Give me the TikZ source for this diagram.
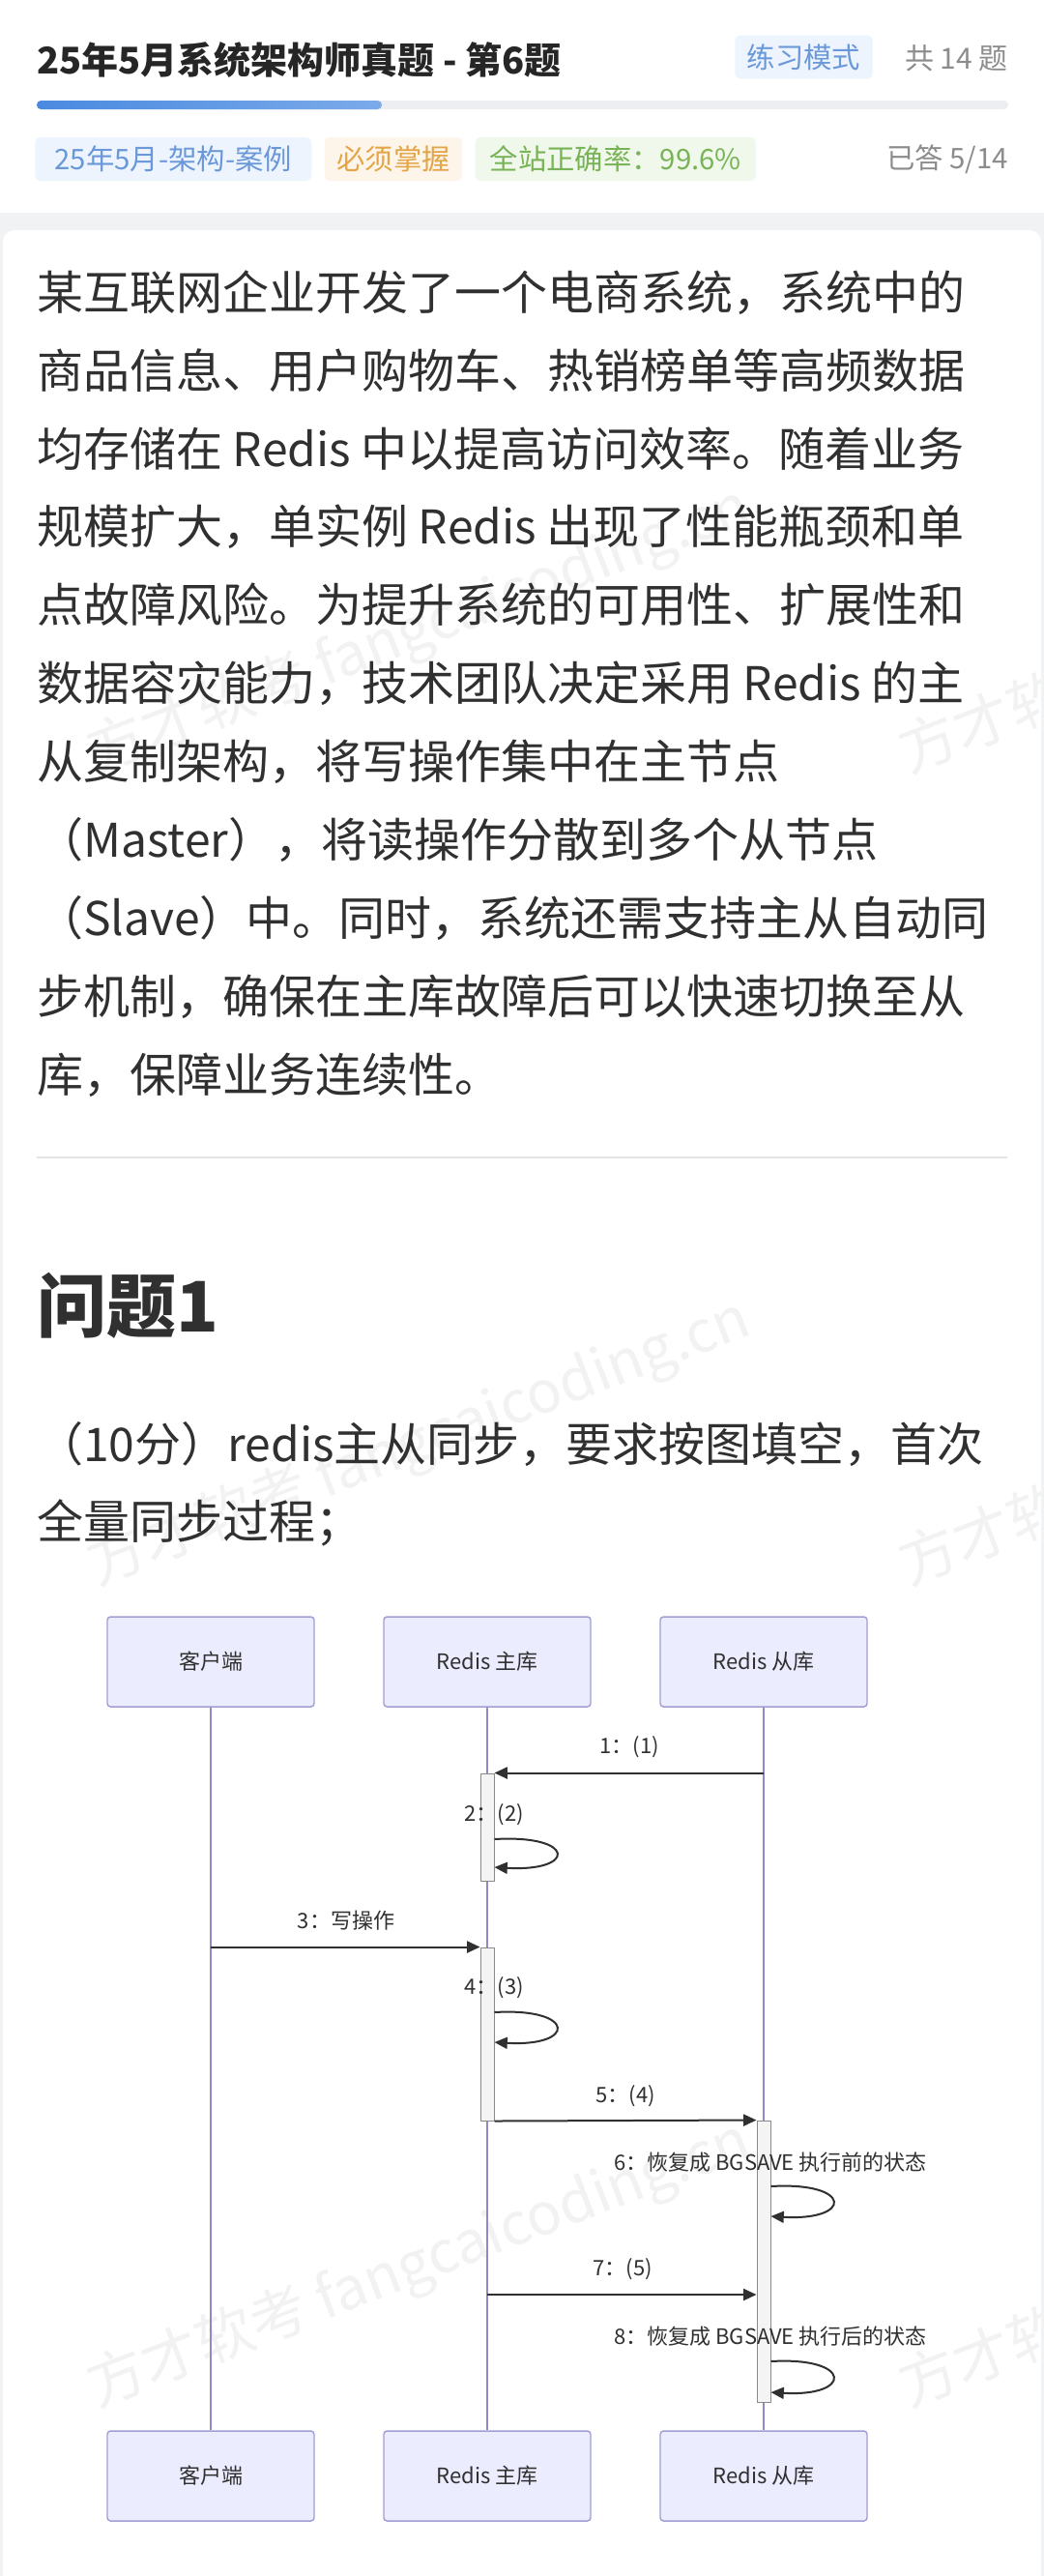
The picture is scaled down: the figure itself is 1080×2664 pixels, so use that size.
\documentclass[tikz,border=0pt]{standalone}
\usepackage{fontspec}
\setmainfont{Noto Sans CJK SC}
\usetikzlibrary{arrows.meta,positioning}

\definecolor{ink}{HTML}{303030}
\definecolor{titleink}{HTML}{262626}
\definecolor{greyink}{HTML}{8C8C8C}
\definecolor{pagegrey}{HTML}{F1F2F4}
\definecolor{trackgrey}{HTML}{ECEEF1}
\definecolor{barleft}{HTML}{4A8AE0}
\definecolor{barright}{HTML}{7BAAEA}
\definecolor{tagbluebg}{HTML}{EDF4FE}
\definecolor{tagblue}{HTML}{6A98D8}
\definecolor{tagorangebg}{HTML}{FDF5E9}
\definecolor{tagorange}{HTML}{E3A548}
\definecolor{taggreenbg}{HTML}{F0F8EB}
\definecolor{taggreen}{HTML}{78B357}
\definecolor{actorfill}{HTML}{ECECFF}
\definecolor{actorline}{HTML}{A29ED4}
\definecolor{lifeline}{HTML}{8F89C7}
\definecolor{barfill}{HTML}{F4F4F4}
\definecolor{barline}{HTML}{8A8A8A}
\definecolor{sepgrey}{HTML}{E4E4E4}

\newcommand{\fsz}[1]{\fontsize{#1}{#1}\selectfont}

\tikzset{
  bodyline/.style={anchor=west, inner sep=0pt, text=ink, font=\fsz{36pt}, text height=31.7pt, text depth=4.3pt},
  tagbox/.style={anchor=west, rounded corners=4pt, inner xsep=9.4pt, inner ysep=0pt, minimum height=33.75pt,
    font=\fsz{22pt}, text height=19.4pt, text depth=2.6pt},
  actor/.style={draw=actorline, fill=actorfill, line width=1.1pt, rounded corners=2.5pt,
    minimum width=160.5pt, minimum height=69.75pt, font=\fsz{16.5pt}, text=ink},
  life/.style={draw=lifeline, line width=1.5pt},
  actbar/.style={draw=barline, fill=barfill, line width=0.75pt, inner sep=0pt, minimum width=10.5pt},
  msg/.style={draw=ink, line width=1.5pt, -{Triangle[length=10pt,width=9pt]}},
  msglabel/.style={font=\fsz{16.5pt}, text=ink, inner sep=0pt},
  watermark/.style={anchor=base west, rotate=21, text=black!5, font=\fsz{45pt}, inner sep=0pt}
}

\begin{document}
\begin{tikzpicture}[x=0.75pt,y=-0.75pt]
\useasboundingbox (0,0) rectangle (1080,2664);
\clip (0,0) rectangle (1080,2664);
% page, header strip and card
\fill[pagegrey] (0,0) rectangle (1080,2664);
\fill[white] (0,0) rectangle (1080,220);
\fill[white,rounded corners=9pt] (3,238) rectangle (1077,2720);

% faint watermark
\foreach \wy in {800,1640,2490}{
  \node[watermark] (wml\wy) at (100,\wy) {方才软考 fangcaicoding.cn};
  \node[watermark] (wmr\wy) at (940,\wy) {方才软考 fangcaicoding.cn};
}

% header
\node[anchor=west, inner sep=0pt, text=titleink, font=\bfseries\fsz{28.5pt}] (title) at (38,62) {25年5月系统架构师真题 - 第6题};
\node[tagbox, anchor=center, fill=tagbluebg, text=tagblue] (mode) at (831.5,59) {练习模式};
\node[anchor=east, inner sep=0pt, text=greyink, font=\fsz{22.5pt}] (total) at (1043,60) {共 14 题};
\fill[trackgrey, rounded corners=3.3pt] (38,104) rectangle (1043,113);
\shade[left color=barleft, right color=barright, rounded corners=3.3pt] (38,104) rectangle (395,113);
\node[tagbox, fill=tagbluebg, text=tagblue, minimum width=214.5pt] (tagexam) at (36,164.5) {25年5月-架构-案例};
\node[tagbox, fill=tagorangebg, text=tagorange, right=9.75pt of tagexam] (tagmust) {必须掌握};
\node[tagbox, fill=taggreenbg, text=taggreen, minimum width=217.5pt, right=9.75pt of tagmust] (tagrate) {全站正确率：99.6\%};
\node[anchor=east, inner sep=0pt, text=greyink, font=\fsz{22pt}] (answered) at (1043,164.5) {已答 5/14};

% case text
\foreach \ln [count=\i] in {某互联网企业开发了一个电商系统，系统中的,
  商品信息、用户购物车、热销榜单等高频数据,
  均存储在 Redis 中以提高访问效率。随着业务,
  规模扩大，单实例 Redis 出现了性能瓶颈和单,
  点故障风险。为提升系统的可用性、扩展性和,
  数据容灾能力，技术团队决定采用 Redis 的主,
  从复制架构，将写操作集中在主节点,
  （Master），将读操作分散到多个从节点,
  （Slave）中。同时，系统还需支持主从自动同,
  步机制，确保在主库故障后可以快速切换至从,
  库，保障业务连续性。}
  \node[bodyline] (para\i) at (38,{302+(\i-1)*80.9}) {\ln};

\draw[sepgrey, line width=1.5pt] (38,1197) -- (1042,1197);

\node[anchor=west, inner sep=0pt, text=ink, font=\bfseries\fsz{54pt}] (qhead) at (38,1350) {问题1};
\node[bodyline] (ask1) at (38,1493) {（10分）redis主从同步，要求按图填空，首次};
\node[bodyline] (ask2) at (38,1573) {全量同步过程；};

% sequence diagram
\node[actor] (client) at (218,1718.5) {客户端};
\node[actor] (master) at (504,1718.5) {Redis 主库};
\node[actor] (slave) at (790,1718.5) {Redis 从库};
\node[actor] (clientb) at (218,2560.5) {客户端};
\node[actor] (masterb) at (504,2560.5) {Redis 主库};
\node[actor] (slaveb) at (790,2560.5) {Redis 从库};
\draw[life] (client) -- (clientb);
\draw[life] (master) -- (masterb);
\draw[life] (slave) -- (slaveb);

\node[actbar, minimum height=83.25pt] (act1) at (504,1889.5) {};
\node[actbar, minimum height=134.25pt] (act2) at (504,2103.5) {};
\node[actbar, minimum height=218.25pt] (act3) at (790,2338.5) {};

\draw[msg] (slave |- act1.north) -- (act1.north east);
\draw[msg] (client |- act2.north) -- (act2.north west);
\draw[msg] (act2.south east) -- (act3.north west);
\coordinate (send7) at (504,2373);
\draw[msg] (send7) -- (act3.west |- send7);
\foreach \bar/\ya/\yb in {act1/1902/1931, act2/2081/2112, act3/2261/2292, act3/2442/2474}
  \draw[msg] (\bar.east |- 0,\ya) .. controls +(85,-5) and +(85,5) .. (\bar.east |- 0,\yb);

\node[msglabel] (lab1) at (651,1807) {1：(1)};
\node[msglabel] (lab2) at (511,1877) {2：(2)};
\node[msglabel] (lab3) at (358,1986) {3：写操作};
\node[msglabel] (lab4) at (511,2056) {4：(3)};
\node[msglabel] (lab5) at (647,2168) {5：(4)};
\node[msglabel] (lab6) at (797,2236) {6：恢复成 BGSAVE 执行前的状态};
\node[msglabel] (lab7) at (644,2347) {7：(5)};
\node[msglabel] (lab8) at (797,2416) {8：恢复成 BGSAVE 执行后的状态};
\end{tikzpicture}
\end{document}
